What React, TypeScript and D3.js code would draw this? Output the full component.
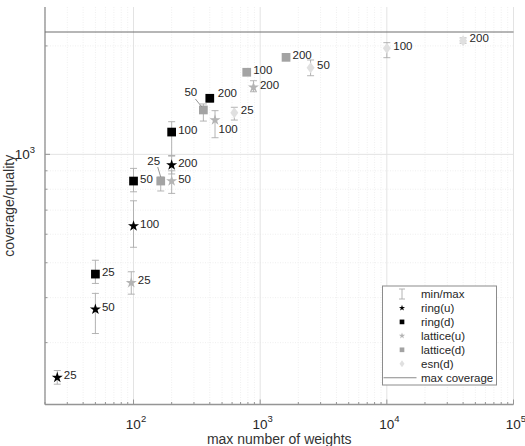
import React, { useRef, useEffect } from "react";
import * as d3 from "d3";

// network sizes shown next to every marker
const sizes = [25, 50, 100, 200];

// ring, undirected
const ringUWeights = [25, 50, 100, 200];
const ringUMean = [240, 371, 632, 934];
const ringUMin = [230, 318, 552, 882];
const ringUMax = [251, 411, 743, 989];

// ring, directed
const ringDWeights = [50, 100, 200, 400];
const ringDMean = [465, 843, 1153, 1431];
const ringDMin = [438, 787, 992, 1398];
const ringDMax = [508, 914, 1232, 1461];

// lattice, undirected
const latticeUWeights = [96, 200, 440, 885];
const latticeUMean = [440, 843, 1245, 1535];
const latticeUMin = [409, 779, 1112, 1492];
const latticeUMax = [472, 900, 1322, 1601];

// lattice, directed
const latticeDWeights = [164, 356, 783, 1600];
const latticeDMean = [843, 1328, 1690, 1859];
const latticeDMin = [791, 1237, 1660, 1830];
const latticeDMax = [865, 1380, 1725, 1885];

// echo state network, directed
const esnDWeights = [625, 2500, 10000, 40000];
const esnDMean = [1305, 1740, 1970, 2068];
const esnDMin = [1245, 1653, 1855, 2035];
const esnDMax = [1351, 1828, 2042, 2105];

const maxCoverage = 2187;

const xTicks = [1e2, 1e3, 1e4, 1e5];
const yTicks = [1e3];

const FONT = "'Liberation Sans', Arial, Helvetica, sans-serif";

const star = d3.symbol().type(d3.symbolStar).size(38)();
const starSmall = d3.symbol().type(d3.symbolStar).size(12)();
const square = d3.symbol().type(d3.symbolSquare).size(76)();
const squareSmall = d3.symbol().type(d3.symbolSquare).size(22)();
const diamond = "M0,-5.5L4,0L0,5.5L-4,0Z";
const diamondSmall = "M0,-3.5L2.5,0L0,3.5L-2.5,0Z";

const series = [
  { name: "ring(u)", w: ringUWeights, mean: ringUMean, lo: ringUMin, hi: ringUMax, path: star, icon: starSmall, color: "#000000" },
  { name: "ring(d)", w: ringDWeights, mean: ringDMean, lo: ringDMin, hi: ringDMax, path: square, icon: squareSmall, color: "#000000" },
  { name: "lattice(u)", w: latticeUWeights, mean: latticeUMean, lo: latticeUMin, hi: latticeUMax, path: star, icon: starSmall, color: "#b4b4b4" },
  { name: "lattice(d)", w: latticeDWeights, mean: latticeDMean, lo: latticeDMin, hi: latticeDMax, path: square, icon: squareSmall, color: "#a3a3a3" },
  { name: "esn(d)", w: esnDWeights, mean: esnDMean, lo: esnDMin, hi: esnDMax, path: diamond, icon: diamondSmall, color: "#e0e0e0" },
];

// labels that don't sit at the default spot right of the marker
const callouts: Record<string, { dx: number; dy: number; anchor?: string; leader?: number[] }> = {
  "lattice(d)-25": { dx: -7, dy: -20, anchor: "middle", leader: [-3, -14, 0, -4] },
  "lattice(d)-50": { dx: -12.5, dy: -17.5, anchor: "middle", leader: [-8, -11, -1.5, -3] },
  "lattice(u)-100": { dx: 3.5, dy: 8.5 },
  "ring(d)-200": { dx: 8, dy: -5 },
};

const App = () => {
  const svgRef = useRef(null);
  const W = 525;
  const H = 446;

  useEffect(() => {
    const svg = d3.select(svgRef.current);
    svg.selectAll("*").remove();

    const x = d3.scaleLog().domain([20, 1e5]).range([45, 513.5]);
    const y = d3.scaleLog().domain([202, 2565]).range([404.5, 7]);
    const [x0, x1] = x.range();
    const [y0, y1] = y.range();

    const xMinor = x.ticks().filter(t => !xTicks.includes(t));
    const yMinor = y.ticks().filter(t => !yTicks.includes(t));

    // grid
    const grid = svg.append("g");
    grid.selectAll("line.xminor").data(xMinor).join("line")
      .attr("x1", d => x(d)).attr("x2", d => x(d)).attr("y1", y1).attr("y2", y0)
      .attr("stroke", "#efefef").attr("stroke-dasharray", "1,1.5");
    grid.selectAll("line.yminor").data(yMinor).join("line")
      .attr("x1", x0).attr("x2", x1).attr("y1", d => y(d)).attr("y2", d => y(d))
      .attr("stroke", "#efefef").attr("stroke-dasharray", "1,1.5");
    grid.selectAll("line.xmajor").data(xTicks).join("line")
      .attr("x1", d => x(d)).attr("x2", d => x(d)).attr("y1", y1).attr("y2", y0)
      .attr("stroke", "#e3e3e3");
    grid.selectAll("line.ymajor").data(yTicks).join("line")
      .attr("x1", x0).attr("x2", x1).attr("y1", d => y(d)).attr("y2", d => y(d))
      .attr("stroke", "#e3e3e3");

    // axes (bottom and left only, ticks pointing in)
    const axes = svg.append("g").attr("stroke", "#959595");
    axes.append("line").attr("x1", x0).attr("x2", x1).attr("y1", y0).attr("y2", y0).attr("stroke-width", 1.4);
    axes.append("line").attr("x1", x0).attr("x2", x0).attr("y1", y1).attr("y2", y0).attr("stroke-width", 1.4);
    axes.selectAll("line.xt").data(x.ticks()).join("line")
      .attr("x1", d => x(d)).attr("x2", d => x(d))
      .attr("y1", y0).attr("y2", d => y0 - (xTicks.includes(d) ? 5 : 2.5));
    axes.selectAll("line.yt").data(y.ticks()).join("line")
      .attr("y1", d => y(d)).attr("y2", d => y(d))
      .attr("x1", x0).attr("x2", d => x0 + (yTicks.includes(d) ? 5 : 2.5));

    // tick labels as 10^n
    const powLabel = (g, v) => {
      const e = Math.round(Math.log10(v));
      g.append("tspan").text("10");
      g.append("tspan").attr("font-size", 9.5).attr("dy", -6.5).text(String(e));
    };
    xTicks.forEach(v => {
      const t = svg.append("text").attr("x", x(v) + 2.5).attr("y", 428.5)
        .attr("text-anchor", "middle").attr("font-family", FONT).attr("font-size", 13.5).attr("fill", "#262626");
      powLabel(t, v);
    });
    yTicks.forEach(v => {
      const t = svg.append("text").attr("x", 35).attr("y", y(v) + 5)
        .attr("text-anchor", "end").attr("font-family", FONT).attr("font-size", 13.5).attr("fill", "#262626");
      powLabel(t, v);
    });

    svg.append("text").attr("x", (x0 + x1) / 2).attr("y", 444)
      .attr("text-anchor", "middle").attr("font-family", FONT).attr("font-size", 14).attr("fill", "#333")
      .text("max number of weights");
    svg.append("text").attr("transform", `translate(14,${(y0 + y1) / 2}) rotate(-90)`)
      .attr("text-anchor", "middle").attr("font-family", FONT).attr("font-size", 14).attr("fill", "#333")
      .text("coverage/quality");

    // max coverage
    svg.append("line").attr("x1", x0).attr("x2", x1)
      .attr("y1", y(maxCoverage)).attr("y2", y(maxCoverage))
      .attr("stroke", "#6e6e6e").attr("stroke-width", 1.1);

    // min/max error bars under all markers
    const bars = svg.append("g").attr("stroke", "#ababab").attr("stroke-width", 0.9);
    series.forEach(s => {
      s.w.forEach((w, i) => {
        const cx = x(w);
        bars.append("line").attr("x1", cx).attr("x2", cx).attr("y1", y(s.lo[i])).attr("y2", y(s.hi[i]));
        [s.lo[i], s.hi[i]].forEach(v => {
          bars.append("line").attr("x1", cx - 3.5).attr("x2", cx + 3.5).attr("y1", y(v)).attr("y2", y(v));
        });
      });
    });

    // markers and size labels
    series.forEach(s => {
      const g = svg.append("g");
      g.selectAll("path").data(s.w).join("path")
        .attr("d", s.path)
        .attr("transform", (d, i) => `translate(${x(d)},${y(s.mean[i])})`)
        .attr("fill", s.color);
      s.w.forEach((w, i) => {
        const c = callouts[`${s.name}-${sizes[i]}`] || { dx: 6.5, dy: -2.5 };
        const cx = x(w);
        const cy = y(s.mean[i]);
        if (c.leader) {
          svg.append("line")
            .attr("x1", cx + c.leader[0]).attr("y1", cy + c.leader[1])
            .attr("x2", cx + c.leader[2]).attr("y2", cy + c.leader[3])
            .attr("stroke", "#8a8a8a").attr("stroke-width", 0.9);
        }
        svg.append("text").attr("x", cx + c.dx).attr("y", cy + c.dy)
          .attr("dominant-baseline", "central")
          .attr("text-anchor", c.anchor || "start")
          .attr("font-family", FONT).attr("font-size", 11.5).attr("fill", "#262626")
          .text(sizes[i]);
      });
    });

    // legend
    const lg = svg.append("g").attr("transform", "translate(382.5,286)");
    lg.append("rect").attr("width", 114).attr("height", 99)
      .attr("fill", "#ffffff").attr("stroke", "#8c8c8c").attr("stroke-width", 1);
    const rowY = i => 8 + i * 13.95;
    const ix = 19.5;
    const tx = 38.5;
    const addText = (i, t) => lg.append("text").attr("x", tx).attr("y", rowY(i))
      .attr("dominant-baseline", "central").attr("font-family", FONT).attr("font-size", 11.5)
      .attr("fill", "#262626").text(t);
    // min/max icon
    const eb = lg.append("g").attr("stroke", "#ababab").attr("stroke-width", 0.9);
    eb.append("line").attr("x1", ix).attr("x2", ix).attr("y1", rowY(0) - 5).attr("y2", rowY(0) + 5);
    eb.append("line").attr("x1", ix - 3).attr("x2", ix + 3).attr("y1", rowY(0) - 5).attr("y2", rowY(0) - 5);
    eb.append("line").attr("x1", ix - 3).attr("x2", ix + 3).attr("y1", rowY(0) + 5).attr("y2", rowY(0) + 5);
    addText(0, "min/max");
    series.forEach((s, k) => {
      lg.append("path").attr("d", s.icon).attr("fill", s.color)
        .attr("transform", `translate(${ix},${rowY(k + 1)})`);
      addText(k + 1, s.name);
    });
    lg.append("line").attr("x1", 1).attr("x2", 34).attr("y1", rowY(6)).attr("y2", rowY(6))
      .attr("stroke", "#8a8a8a").attr("stroke-width", 1.1);
    addText(6, "max coverage");
  });

  return (
    <svg ref={svgRef} width={W} height={H}
      style={{ position: "absolute", left: 0, top: 0, background: "#ffffff" }}>
    </svg>
  );
};

export default App;
